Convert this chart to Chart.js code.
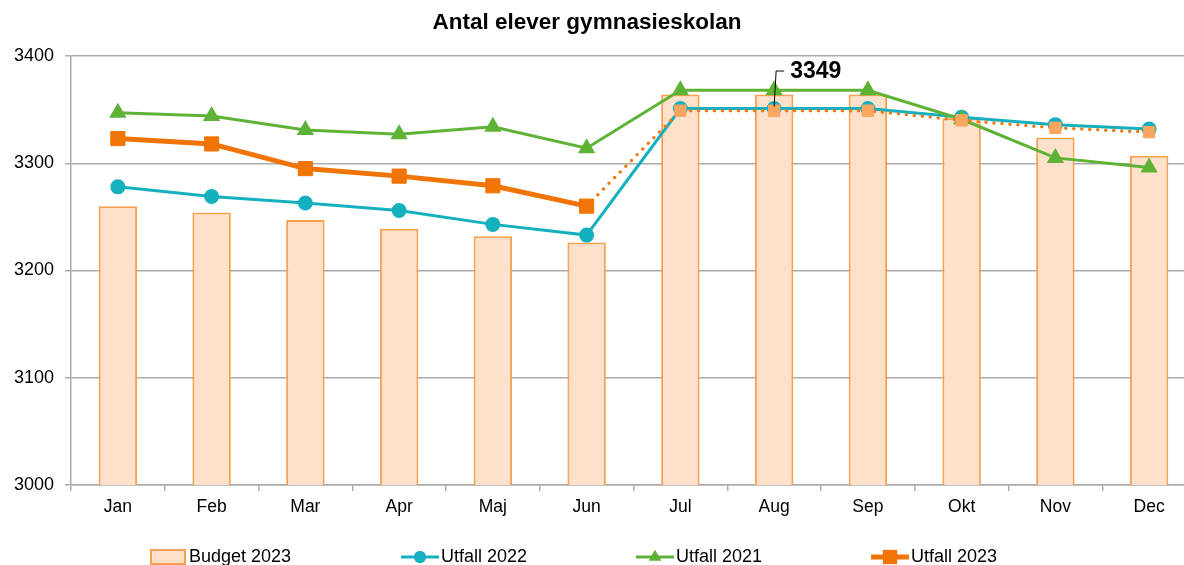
<!DOCTYPE html>
<html>
<head>
<meta charset="utf-8">
<title>Antal elever gymnasieskolan</title>
<script src="https://cdn.jsdelivr.net/npm/chart.js@4.4.0/dist/chart.umd.min.js"></script>
<style>
    html, body { margin: 0; padding: 0; background: #fff; overflow: hidden; }
    #wrap { width: 1184px; height: 565px; overflow: hidden; }
    canvas { display: block; }
</style>
</head>
<body>
<div id="wrap"><canvas id="chart" width="1207" height="565"></canvas></div>
<script>
// Data
const months = ['Jan', 'Feb', 'Mar', 'Apr', 'Maj', 'Jun', 'Jul', 'Aug', 'Sep', 'Okt', 'Nov', 'Dec'];
const budget2023 = [3260, 3254, 3247, 3239, 3232, 3226, 3364, 3364, 3364, 3342, 3324, 3307];
const utfall2022 = [3278, 3269, 3263, 3256, 3243, 3233, 3351, 3351, 3351, 3343, 3336, 3332];
const utfall2021 = [3347, 3344, 3331, 3327, 3334, 3314, 3368, 3368, 3368, 3341, 3305, 3296];
const utfall2023 = [3323, 3318, 3295, 3288, 3279, 3260, 3349, 3349, 3349, 3340, 3333, 3329];
const lastActual = 5;          // Jun = sista utfall, sedan prognos
const yTicks = [3000, 3100, 3200, 3300, 3400];
const calloutIndex = 7;        // etikett "3349" vid Aug

const FONT = '"Liberation Sans", Arial, sans-serif';
const GRID = '#ababab';

const isForecast = i => i > lastActual;

// Titel, etikett och förklaring ritas för hand
const decor = {
    id: 'decor',
    afterDraw(chart) {
        const ctx = chart.ctx;
        ctx.save();

        // Titel
        ctx.fillStyle = '#000';
        ctx.font = 'bold 22.5px ' + FONT;
        ctx.textAlign = 'center';
        ctx.textBaseline = 'middle';
        ctx.fillText('Antal elever gymnasieskolan', 587, 23);

        // Etikett med ledarlinje
        const px = chart.scales.x.getPixelForValue(calloutIndex);
        const py = chart.scales.y.getPixelForValue(utfall2023[calloutIndex]);
        ctx.strokeStyle = '#000';
        ctx.lineWidth = 1;
        ctx.beginPath();
        ctx.moveTo(px, py - 4);
        ctx.lineTo(px + 2, 71);
        ctx.lineTo(px + 10, 71);
        ctx.stroke();
        ctx.font = 'bold 23px ' + FONT;
        ctx.textAlign = 'left';
        ctx.fillText(String(utfall2023[calloutIndex]), px + 16, 72);

        // Förklaring
        const ly = 557;
        ctx.font = '18px ' + FONT;
        ctx.textBaseline = 'middle';

        ctx.fillStyle = '#fde1ca';
        ctx.strokeStyle = '#f7a052';
        ctx.lineWidth = 2;
        ctx.fillRect(151, 550, 34, 14);
        ctx.strokeRect(151, 550, 34, 14);
        ctx.fillStyle = '#000';
        ctx.fillText('Budget 2023', 189, ly);

        const lineItem = (x0, color, width, style, radius, label) => {
            ctx.strokeStyle = color;
            ctx.lineWidth = width;
            ctx.beginPath();
            ctx.moveTo(x0, ly);
            ctx.lineTo(x0 + 38, ly);
            ctx.stroke();
            ctx.fillStyle = color;
            Chart.helpers.drawPoint(ctx, { pointStyle: style, radius: radius, borderWidth: 0 }, x0 + 19, ly);
            ctx.fill();
            ctx.fillStyle = '#000';
            ctx.fillText(label, x0 + 40, ly);
        };
        lineItem(401, '#14b0bf', 3, 'circle', 6, 'Utfall 2022');
        lineItem(636, '#5eb235', 3, 'triangle', 7, 'Utfall 2021');
        lineItem(871, '#f07406', 5, 'rect', 10, 'Utfall 2023');

        ctx.restore();
    }
};

const ctx = document.getElementById('chart').getContext('2d');
new Chart(ctx, {
    type: 'bar',
    data: {
        labels: months,
        datasets: [
            {
                type: 'line',
                label: 'Utfall 2023',
                data: utfall2023,
                order: 1,
                borderColor: '#f07406',
                borderWidth: 5,
                pointStyle: 'rect',
                pointRadius: months.map((m, i) => isForecast(i) ? 8 : 10),
                pointBackgroundColor: months.map((m, i) => isForecast(i) ? '#f9a65e' : '#f07406'),
                pointBorderColor: months.map((m, i) => isForecast(i) ? '#f9a65e' : '#f07406'),
                pointBorderWidth: 1,
                segment: {
                    borderDash: c => c.p0DataIndex >= lastActual ? [0, 8] : undefined,
                    borderWidth: c => c.p0DataIndex >= lastActual ? 3.5 : undefined,
                    borderCapStyle: c => c.p0DataIndex >= lastActual ? 'round' : undefined,
                    borderColor: c => c.p0DataIndex >= lastActual ? '#f07a12' : undefined
                },
                tension: 0
            },
            {
                type: 'line',
                label: 'Utfall 2021',
                data: utfall2021,
                order: 2,
                borderColor: '#5eb235',
                borderWidth: 3,
                pointStyle: 'triangle',
                pointRadius: 7,
                pointBackgroundColor: '#5eb235',
                pointBorderColor: '#5eb235',
                tension: 0
            },
            {
                type: 'line',
                label: 'Utfall 2022',
                data: utfall2022,
                order: 3,
                borderColor: '#14b0bf',
                borderWidth: 3,
                pointStyle: 'circle',
                pointRadius: 6,
                pointBackgroundColor: '#14b0bf',
                pointBorderColor: '#14b0bf',
                tension: 0
            },
            {
                label: 'Budget 2023',
                data: budget2023,
                order: 10,
                backgroundColor: '#fde1ca',
                borderColor: '#f7a052',
                borderWidth: 2,
                barPercentage: 0.41,
                categoryPercentage: 1
            }
        ]
    },
    options: {
        responsive: false,
        animation: false,
        devicePixelRatio: 1,
        layout: { padding: { top: 56, right: 4, bottom: 35, left: 0 } },
        plugins: {
            legend: { display: false },
            title: { display: false },
            tooltip: { enabled: false }
        },
        scales: {
            x: {
                afterFit: s => { s.height = 45; },
                grid: {
                    display: true,
                    offset: true,
                    drawOnChartArea: false,
                    drawTicks: true,
                    tickLength: 6,
                    color: GRID,
                    lineWidth: 1.5
                },
                border: { color: GRID, width: 1.5 },
                ticks: {
                    color: '#000',
                    font: { family: FONT, size: 17.5 },
                    padding: 6
                }
            },
            y: {
                min: yTicks[0],
                max: yTicks[yTicks.length - 1],
                afterFit: s => { s.width = 71; },
                afterBuildTicks: axis => { axis.ticks = yTicks.map(v => ({ value: v })); },
                grid: {
                    color: GRID,
                    lineWidth: 1.5,
                    tickLength: 6
                },
                border: { color: GRID, width: 1.5 },
                ticks: {
                    color: '#000',
                    font: { family: FONT, size: 18 },
                    padding: 11,
                    callback: v => String(v)
                }
            }
        }
    },
    plugins: [decor]
});
</script>
</body>
</html>
